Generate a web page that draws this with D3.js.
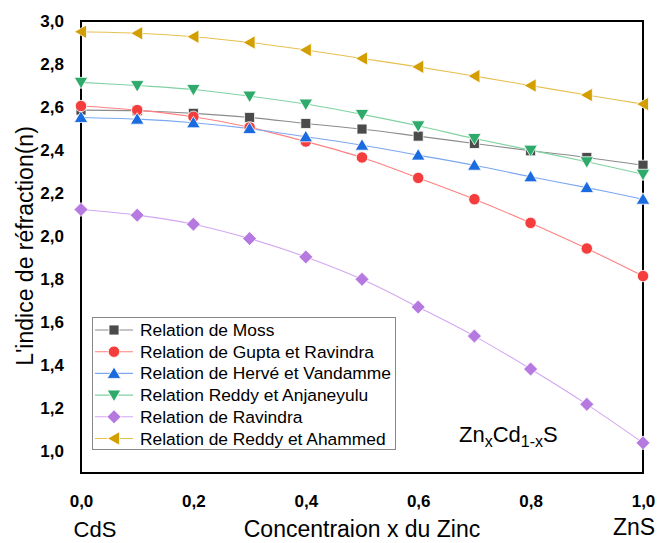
<!DOCTYPE html>
<html>
<head>
<meta charset="utf-8">
<script src="https://cdn.jsdelivr.net/npm/d3@7"></script>
<style>
  body { margin: 0; background: #fff; }
  svg { display: block; font-family: "Liberation Sans", Arial, sans-serif; }
</style>
</head>
<body>
<svg width="659" height="543"></svg>
<script>
var concentrations = [0, 0.1, 0.2, 0.3, 0.4, 0.5, 0.6, 0.7, 0.8, 0.9, 1.0];
var moss = [2.586, 2.583, 2.571, 2.552, 2.524, 2.498, 2.465, 2.431, 2.397, 2.366, 2.33];
var guptaRavindra = [2.605, 2.586, 2.555, 2.506, 2.44, 2.366, 2.271, 2.172, 2.062, 1.943, 1.815];
var herveVandamme = [2.552, 2.544, 2.527, 2.50, 2.462, 2.423, 2.377, 2.33, 2.276, 2.226, 2.172];
var reddyAnjaneyulu = [2.715, 2.70, 2.682, 2.651, 2.614, 2.566, 2.513, 2.454, 2.40, 2.346, 2.288];
var ravindra = [2.124, 2.098, 2.056, 1.989, 1.904, 1.80, 1.671, 1.536, 1.383, 1.219, 1.04];
var reddyAhammed = [2.95, 2.943, 2.927, 2.90, 2.865, 2.826, 2.787, 2.744, 2.70, 2.656, 2.614];
var seriesNames = ['Relation de Moss', 'Relation de Gupta et Ravindra', 'Relation de Hervé et Vandamme',
  'Relation Reddy et Anjaneyulu', 'Relation de Ravindra', 'Relation de Reddy et Ahammed'];
var xTicks = [0, 0.2, 0.4, 0.6, 0.8, 1.0];
var yTicks = [1.0, 1.2, 1.4, 1.6, 1.8, 2.0, 2.2, 2.4, 2.6, 2.8, 3.0];

var svg = d3.select('svg');
var plotLeft = 81, plotRight = 643, plotTop = 21, plotBottom = 473;

var series = [
  { name: seriesNames[0], values: moss, fill: '#4b4b4b', line: '#8c8c8c', shape: 'square' },
  { name: seriesNames[1], values: guptaRavindra, fill: '#f43d3d', line: '#ff8080', shape: 'circle' },
  { name: seriesNames[2], values: herveVandamme, fill: '#1a6ae0', line: '#7ba7f0', shape: 'up' },
  { name: seriesNames[3], values: reddyAnjaneyulu, fill: '#2eaa6a', line: '#80d2a2', shape: 'down' },
  { name: seriesNames[4], values: ravindra, fill: '#b679e0', line: '#d3a6f2', shape: 'diamond' },
  { name: seriesNames[5], values: reddyAhammed, fill: '#d39e00', line: '#e6c050', shape: 'left' }
];

function markerPath(shape) {
  if (shape == 'square') return 'M-5,-5h10v10h-10z';
  if (shape == 'circle') return 'M-5.7,0a5.7,5.7 0 1,0 11.4,0a5.7,5.7 0 1,0 -11.4,0z';
  if (shape == 'up') return 'M0,-6.5L6.8,5L-6.8,5Z';
  if (shape == 'down') return 'M0,6.5L6.8,-5L-6.8,-5Z';
  if (shape == 'diamond') return 'M0,-7L7,0L0,7L-7,0Z';
  return 'M-6.5,0L5.5,-6.8L5.5,6.8Z';
}

var xScale = d3.scaleLinear().domain([0, 1]).range([plotLeft, plotRight]);
var yScale = d3.scaleLinear().domain([0.9, 3.0]).range([plotBottom, plotTop]);

// axes without tick marks, bold labels
var xAxis = d3.axisBottom(xScale).tickValues(xTicks).tickSize(0).tickPadding(22)
  .tickFormat(function(d) { return d.toFixed(1).replace('.', ','); });
var yAxis = d3.axisLeft(yScale).tickValues(yTicks).tickSize(0).tickPadding(17)
  .tickFormat(function(d) { return d.toFixed(1).replace('.', ','); });

var xg = svg.append('g').attr('transform', 'translate(0,' + plotBottom + ')').call(xAxis);
var yg = svg.append('g').attr('transform', 'translate(' + plotLeft + ',0)').call(yAxis);
[xg, yg].forEach(function(g) {
  g.select('.domain').remove();
  g.selectAll('text').attr('font-size', 17).attr('font-weight', 'bold')
    .attr('fill', '#000').attr('font-family', '"Liberation Sans", Arial, sans-serif');
});

svg.append('rect')
  .attr('x', plotLeft).attr('y', plotTop)
  .attr('width', plotRight - plotLeft).attr('height', plotBottom - plotTop)
  .attr('fill', 'none').attr('stroke', '#000').attr('stroke-width', 2);

var line = d3.line()
  .x(function(d, i) { return xScale(concentrations[i]); })
  .y(function(d) { return yScale(d); })
  .curve(d3.curveCatmullRom);

series.forEach(function(s) {
  svg.append('path').datum(s.values)
    .attr('d', line)
    .attr('fill', 'none')
    .attr('stroke', s.line)
    .attr('stroke-width', 1.1);
});

series.forEach(function(s) {
  svg.selectAll(null).data(s.values).enter().append('path')
    .attr('d', markerPath(s.shape))
    .attr('transform', function(d, i) {
      return 'translate(' + xScale(concentrations[i]) + ',' + yScale(d) + ')';
    })
    .attr('fill', s.fill)
    .attr('stroke', '#fff').attr('stroke-width', 0.8);
});

// legend
var legend = svg.append('g');
legend.append('rect')
  .attr('x', 92.5).attr('y', 317.5).attr('width', 303).attr('height', 132)
  .attr('fill', '#fff').attr('stroke', '#888').attr('stroke-width', 1);
series.forEach(function(s, i) {
  var y = 330 + i * 21.7;
  legend.append('line')
    .attr('x1', 95).attr('x2', 133).attr('y1', y).attr('y2', y)
    .attr('stroke', s.line).attr('stroke-width', 1.1);
  legend.append('path')
    .attr('d', markerPath(s.shape))
    .attr('transform', 'translate(114,' + y + ')')
    .attr('fill', s.fill).attr('stroke', '#fff').attr('stroke-width', 0.8);
  legend.append('text')
    .attr('x', 140).attr('y', y + 6)
    .attr('font-size', 17.4)
    .text(s.name);
});

// formula label
var formula = svg.append('text').attr('x', 459).attr('y', 441.5).attr('font-size', 22);
formula.append('tspan').text('Zn');
formula.append('tspan').attr('dy', 5).attr('font-size', 16).text('x');
formula.append('tspan').attr('dy', -5).text('Cd');
formula.append('tspan').attr('dy', 5).attr('font-size', 16).text('1-x');
formula.append('tspan').attr('dy', -5).text('S');

// axis titles
svg.append('text')
  .attr('x', 362).attr('y', 537)
  .attr('text-anchor', 'middle').attr('font-size', 23)
  .text('Concentraion x du Zinc');
svg.append('text')
  .attr('x', 95).attr('y', 537)
  .attr('text-anchor', 'middle').attr('font-size', 22)
  .text('CdS');
svg.append('text')
  .attr('x', 634).attr('y', 535)
  .attr('text-anchor', 'middle').attr('font-size', 23)
  .text('ZnS');
svg.append('text')
  .attr('transform', 'translate(33,246) rotate(-90)')
  .attr('text-anchor', 'middle').attr('font-size', 23)
  .text("L'indice de réfraction(n)");
</script>
</body>
</html>
